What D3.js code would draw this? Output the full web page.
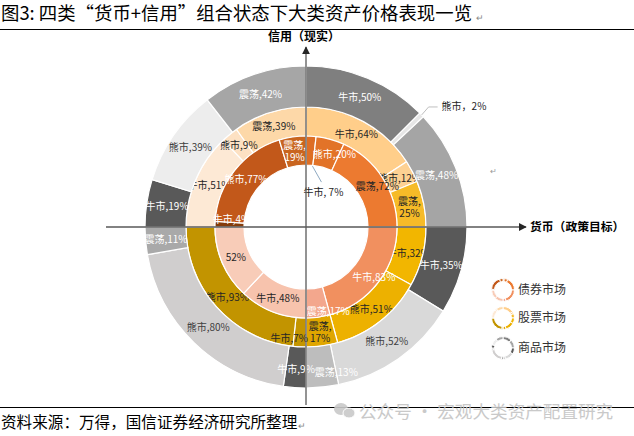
<!DOCTYPE html>
<html><head><meta charset="utf-8">
<script src="https://cdn.jsdelivr.net/npm/d3@7/dist/d3.min.js"></script>
<style>body{margin:0;background:#fff;} svg{display:block;}</style>
</head><body><svg id="c" width="634" height="436"></svg>
<script>
// ---------------- data ----------------
const titleText = "图3: 四类“货币+信用”组合状态下大类资产价格表现一览";
const sourceText = "资料来源：万得，国信证券经济研究所整理";
const watermarkText = "公众号 · 宏观大类资产配置研究";
const xAxisLabel = "货币（政策目标）";
const yAxisLabel = "信用（现实）";
const ringNames = ["债券市场", "股票市场", "商品市场"];
// quadrants clockwise from 12 o'clock: top-right, bottom-right, bottom-left, top-left
const bondNames = [["牛市","熊市","震荡"],["牛市","震荡"],["牛市",""],["牛市","熊市","震荡"]];
const bondValues = [[7,20,72],[83,17],[48,52],[4,77,19]];
const stockNames = [["牛市","熊市","震荡"],["牛市","熊市","震荡"],["牛市","熊市"],["牛市","熊市","震荡"]];
const stockValues = [[64,12,25],[32,51,17],[7,93],[51,9,39]];
const commodityNames = [["牛市","熊市","震荡"],["牛市","熊市","震荡"],["牛市","熊市","震荡"],["牛市","熊市","震荡"]];
const commodityValues = [[50,2,48],[35,52,13],[9,80,11],[19,39,42]];

// ---------------- styles ----------------
const fills = {
  bond: [["#DD6E25","#E27328","#EC7A30"],["#F1905F","#F3A78D"],["#F7C3AD","#F8CCB8"],["#843C0C","#C2581A","#C9651F"]],
  stock: [["#FFCE8A","#FDD193","#F6BB28"],["#F2B600","#EDB100","#E0A600"],["#C49500","#C29400"],["#FDE9D5","#FDE1C3","#FDD8A8"]],
  commodity: [["#7F7F7F","#E6E6E6","#A5A5A5"],["#595959","#D9D9D9","#BDBDBD"],["#595959","#D0CECE","#A9A9A9"],["#595959","#EDEDED","#A6A6A6"]]
};
const inks = {
  bond: [["#fff","#fff","#262626"],["#fff","#fff"],["#262626","#262626"],["#fff","#fff","#fff"]],
  stock: [["#262626","#262626","#262626"],["#262626","#262626","#262626"],["#262626","#262626"],["#262626","#262626","#262626"]],
  commodity: [["#fff","#404040","#fff"],["#fff","#404040","#fff"],["#fff","#404040","#fff"],["#fff","#404040","#fff"]]
};
const wrapKeys = new Set(["bond-3-2","stock-0-2","stock-1-2"]);
// small label nudges (pixels) away from the arc centroid
const nudges = {"bond-0-1":[8,1],"bond-0-2":[7,1],"bond-1-0":[7,4],"bond-1-1":[12,9],"bond-3-0":[2,-5],
                "stock-2-0":[-11,6],"commodity-1-2":[16,6],"commodity-2-0":[0,2]};
const calloutKeys = {"bond-0-0": {dx: 14, dy: 27, text: "牛市, 7%", edge: "inner", ink:"#262626"},
                     "commodity-0-1": {dx: 20, dy: -8, text: "熊市，2%", edge: "outer", ink:"#262626"}};
const cx = 306, cy = 227;
const rInner = d3.scaleOrdinal().domain(["bond","stock","commodity"]).range([62, 91, 120]);
const rOuter = d3.scaleOrdinal().domain(["bond","stock","commodity"]).range([91, 120, 161]);
const labelFont = "'Noto Sans CJK SC','Microsoft YaHei',sans-serif";

const svg = d3.select("#c");
svg.append("rect").attr("width",634).attr("height",436).attr("fill","#fff");

// title & rules
svg.append("text").attr("x",1).attr("y",20).attr("font-family",labelFont).attr("font-size",18.4)
  .attr("fill","#000").text(titleText);
svg.append("text").attr("x",476).attr("y",21).attr("font-size",9).attr("fill","#888").text("↵");
svg.append("line").attr("x1",0).attr("x2",634).attr("y1",29.5).attr("y2",29.5).attr("stroke","#000").attr("stroke-width",1.2);
svg.append("line").attr("x1",0).attr("x2",634).attr("y1",407.5).attr("y2",407.5).attr("stroke","#000").attr("stroke-width",1.2);
svg.append("text").attr("x",1).attr("y",428).attr("font-family",labelFont).attr("font-size",15.6)
  .attr("fill","#000").text(sourceText);
svg.append("text").attr("x",298).attr("y",429).attr("font-size",9).attr("fill","#888").text("↵");
svg.append("text").attr("x",490).attr("y",174).attr("font-size",8).attr("fill","#999").text("↵");

// build segments
function segments(key, names, values) {
  const out = [];
  values.forEach((vals, q) => {
    const total = d3.sum(vals);
    const ang = d3.scaleLinear().domain([0, total]).range([q * Math.PI / 2, (q + 1) * Math.PI / 2]);
    let acc = 0;
    vals.forEach((v, i) => {
      out.push({ring: key, q, i, name: names[q][i], value: v,
        startAngle: ang(acc), endAngle: ang(acc + v)});
      acc += v;
    });
  });
  return out;
}
const data = {
  bond: segments("bond", bondNames, bondValues),
  stock: segments("stock", stockNames, stockValues),
  commodity: segments("commodity", commodityNames, commodityValues)
};

const g = svg.append("g").attr("transform", `translate(${cx},${cy})`);

["stock","bond","commodity"].forEach(key => {
  const arc = d3.arc().innerRadius(rInner(key)).outerRadius(rOuter(key));
  const rg = g.append("g");
  rg.selectAll("path").data(data[key]).join("path")
    .attr("d", arc)
    .attr("fill", d => fills[key][d.q][d.i])
    .attr("stroke", "#fff").attr("stroke-width", 1.2);
  const labels = data[key].filter(d => !calloutKeys[`${key}-${d.q}-${d.i}`]);
  rg.selectAll("text").data(labels).join("text")
    .attr("transform", d => {
      const c = arc.centroid(d);
      const n = nudges[`${key}-${d.q}-${d.i}`] || [0, 0];
      return `translate(${c[0] + n[0]},${c[1] + n[1]})`;
    })
    .attr("text-anchor","middle")
    .attr("font-family", labelFont).attr("font-size", 10)
    .attr("fill", d => inks[key][d.q][d.i])
    .each(function(d) {
      const k = `${key}-${d.q}-${d.i}`;
      const t = d3.select(this);
      const body = d.name ? `${d.name},${d.value}%` : `${d.value}%`;
      if (wrapKeys.has(k)) {
        t.append("tspan").attr("x",0).attr("dy","-0.2em").text(`${d.name},`);
        t.append("tspan").attr("x",0).attr("dy","1.2em").text(`${d.value}%`);
      } else {
        t.append("tspan").attr("x",0).attr("dy","0.35em").text(body);
      }
    });
});

// callouts
Object.entries(calloutKeys).forEach(([k, c]) => {
  const [key, q, i] = k.split("-");
  const d = data[key].find(s => s.q === +q && s.i === +i);
  const a = (d.startAngle + d.endAngle) / 2;
  const r = c.edge === "inner" ? rInner(key) : rOuter(key);
  const px = Math.sin(a) * r, py = -Math.cos(a) * r;
  if (c.edge === "outer") {
    g.append("polyline").attr("points", `${px},${py} ${px+7},${py+c.dy} ${px+c.dx-4},${py+c.dy}`)
      .attr("fill","none").attr("stroke","#BFBFBF").attr("stroke-width",1);
    g.append("text").attr("x", px + c.dx).attr("y", py + c.dy).attr("dy","0.35em")
      .attr("font-family", labelFont).attr("font-size",10).attr("fill",c.ink).text(c.text);
  } else {
    g.append("line").attr("x1",px+3).attr("y1",py+1).attr("x2",px+c.dx-2).attr("y2",py+c.dy-10)
      .attr("stroke","#8EA9C1").attr("stroke-width",1);
    g.append("text").attr("x", px + c.dx).attr("y", py + c.dy).attr("dy","0.35em").attr("text-anchor","middle")
      .attr("font-family", labelFont).attr("font-size",10).attr("fill",c.ink).text(c.text);
  }
});

// axes
const defs = svg.append("defs");
defs.append("marker").attr("id","arr").attr("viewBox","0 0 10 10").attr("refX",9).attr("refY",5)
  .attr("markerWidth",6).attr("markerHeight",6).attr("orient","auto")
  .append("path").attr("d","M0,0 L10,5 L0,10 z").attr("fill","#262626");
svg.append("line").attr("x1",106).attr("x2",526).attr("y1",cy).attr("y2",cy)
  .attr("stroke","#595959").attr("stroke-width",1.3).attr("marker-end","url(#arr)");
svg.append("line").attr("x1",cx).attr("x2",cx).attr("y1",405).attr("y2",47)
  .attr("stroke","#595959").attr("stroke-width",1.3).attr("marker-end","url(#arr)");
svg.append("text").attr("x",530).attr("y",cy).attr("dy","0.35em").attr("font-family",labelFont)
  .attr("font-size",11.8).attr("font-weight","bold").attr("fill","#000").text(xAxisLabel);
svg.append("text").attr("x",cx-2).attr("y",41).attr("text-anchor","middle").attr("font-family",labelFont)
  .attr("font-size",12).attr("font-weight","bold").attr("fill","#000").text(yAxisLabel);

// legend (mini donuts built from each ring's data)
const legendKeys = ["bond","stock","commodity"];
const lg = svg.append("g");
legendKeys.forEach((key, idx) => {
  const ly = [290, 318, 348][idx];
  const mini = d3.arc().innerRadius(8.5).outerRadius(11.5);
  lg.append("g").attr("transform", `translate(503,${ly})`)
    .selectAll("path").data(data[key]).join("path")
    .attr("d", mini).attr("fill", d => fills[key][d.q][d.i]).attr("stroke","#fff").attr("stroke-width",1);
  lg.append("text").attr("x",518).attr("y",ly).attr("dy","0.35em").attr("font-family",labelFont)
    .attr("font-size",12).attr("fill","#333").text(ringNames[idx]);
});

// watermark
const wm = svg.append("g").attr("opacity",0.9);
wm.append("ellipse").attr("cx",341).attr("cy",409).attr("rx",7).attr("ry",6).attr("fill","#c9c9c9");
wm.append("ellipse").attr("cx",349).attr("cy",413).attr("rx",6).attr("ry",5).attr("fill","#c9c9c9").attr("stroke","#fff").attr("stroke-width",1);
wm.append("text").attr("x",359).attr("y",418).attr("font-family",labelFont).attr("font-size",17.6)
  .attr("fill","#c4c4c4").text(watermarkText);
</script></body></html>
